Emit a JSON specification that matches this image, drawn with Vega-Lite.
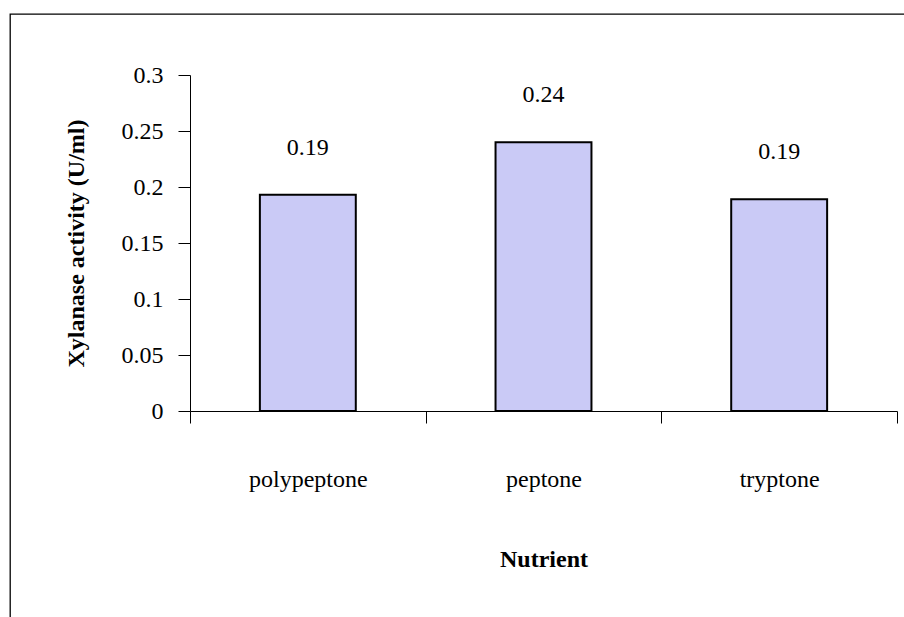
{
  "$schema": "https://vega.github.io/schema/vega-lite/v6.json",
  "autosize": "none",
  "width": 910,
  "height": 615,
  "padding": {"left": 10, "top": 14, "right": 0, "bottom": 0},
  "background": "white",
  "config": {
    "view": {"stroke": "black", "strokeWidth": 1.3},
    "font": "Liberation Serif",
    "axis": {
      "labelFont": "Liberation Serif",
      "titleFont": "Liberation Serif",
      "labelFontSize": 24,
      "titleFontSize": 24,
      "labelColor": "black",
      "titleColor": "black",
      "titleFontWeight": "bold",
      "domainColor": "black",
      "tickColor": "black",
      "domainWidth": 1,
      "tickWidth": 1,
      "grid": false
    }
  },
  "data": {
    "values": [
      {"Nutrient": "polypeptone", "activity": 0.193},
      {"Nutrient": "peptone", "activity": 0.24},
      {"Nutrient": "tryptone", "activity": 0.189}
    ]
  },
  "encoding": {
    "x": {
      "field": "Nutrient",
      "type": "nominal",
      "sort": null,
      "scale": {"range": [180, 887], "paddingInner": 0, "paddingOuter": 0},
      "axis": {
        "title": "Nutrient",
        "labelAngle": 0,
        "offset": -218,
        "tickSize": 12,
        "tickBand": "extent",
        "labelPadding": 44,
        "titlePadding": 56
      }
    },
    "y": {
      "field": "activity",
      "type": "quantitative",
      "scale": {"domain": [0, 0.3], "range": [397, 61], "nice": false},
      "axis": {
        "title": "Xylanase activity (U/ml)",
        "values": [0, 0.05, 0.1, 0.15, 0.2, 0.25, 0.3],
        "format": "~g",
        "offset": -180,
        "tickSize": 12,
        "labelPadding": 15,
        "titlePadding": 33
      }
    }
  },
  "layer": [
    {
      "mark": {
        "type": "bar",
        "width": {"band": 0.407},
        "fill": "#cacaf6",
        "stroke": "black",
        "strokeWidth": 2
      }
    },
    {
      "mark": {
        "type": "text",
        "dy": -47,
        "baseline": "middle",
        "align": "center",
        "font": "Liberation Serif",
        "fontSize": 24,
        "color": "black"
      },
      "encoding": {
        "text": {"field": "activity", "type": "quantitative", "format": ".2f"}
      }
    }
  ]
}
